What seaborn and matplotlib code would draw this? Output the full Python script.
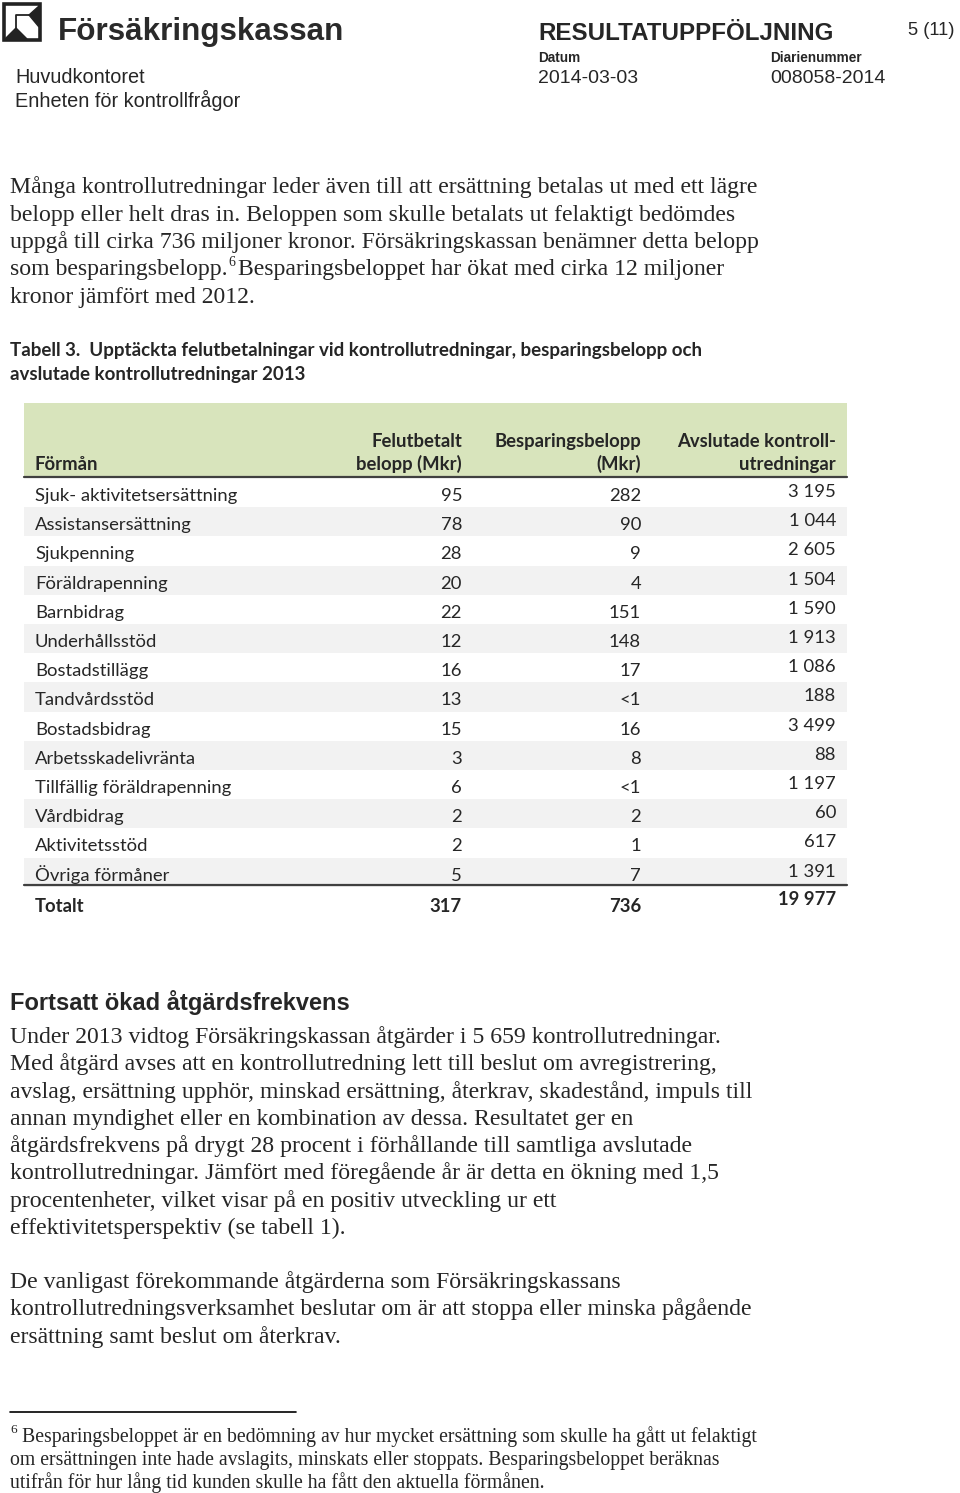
import matplotlib
matplotlib.use("Agg")
import matplotlib.pyplot as plt
from matplotlib.patches import Polygon, Rectangle
import seaborn as sns

# ---------------- data ----------------
formaner = ["Sjuk- aktivitetsersättning", "Assistansersättning", "Sjukpenning",
            "Föräldrapenning", "Barnbidrag", "Underhållsstöd", "Bostadstillägg",
            "Tandvårdsstöd", "Bostadsbidrag", "Arbetsskadelivränta",
            "Tillfällig föräldrapenning", "Vårdbidrag", "Aktivitetsstöd",
            "Övriga förmåner"]
felutbetalt = [95, 78, 28, 20, 22, 12, 16, 13, 15, 3, 6, 2, 2, 5]
besparing = ["282", "90", "9", "4", "151", "148", "17", "<1", "16", "8",
             "<1", "2", "1", "7"]
avslutade = [3195, 1044, 2605, 1504, 1590, 1913, 1086, 188, 3499, 88,
             1197, 60, 617, 1391]
totals = [317, 736, 19977]
header_cols = [("Felutbetalt", "belopp (Mkr)"),
               ("Besparingsbelopp", "(Mkr)"),
               ("Avslutade kontroll-", "utredningar")]

para1 = ["Många kontrollutredningar leder även till att ersättning betalas ut med ett lägre",
         "belopp eller helt dras in. Beloppen som skulle betalats ut felaktigt bedömdes",
         "uppgå till cirka 736 miljoner kronor. Försäkringskassan benämner detta belopp",
         "som besparingsbelopp.",
         "kronor jämfört med 2012."]
para1_rest = "Besparingsbeloppet har ökat med cirka 12 miljoner"
para2 = ["Under 2013 vidtog Försäkringskassan åtgärder i 5 659 kontrollutredningar.",
         "Med åtgärd avses att en kontrollutredning lett till beslut om avregistrering,",
         "avslag, ersättning upphör, minskad ersättning, återkrav, skadestånd, impuls till",
         "annan myndighet eller en kombination av dessa. Resultatet ger en",
         "åtgärdsfrekvens på drygt 28 procent i förhållande till samtliga avslutade",
         "kontrollutredningar. Jämfört med föregående år är detta en ökning med 1,5",
         "procentenheter, vilket visar på en positiv utveckling ur ett",
         "effektivitetsperspektiv (se tabell 1)."]
para3 = ["De vanligast förekommande åtgärderna som Försäkringskassans",
         "kontrollutredningsverksamhet beslutar om är att stoppa eller minska pågående",
         "ersättning samt beslut om återkrav."]
footnote = ["Besparingsbeloppet är en bedömning av hur mycket ersättning som skulle ha gått ut felaktigt",
            "om ersättningen inte hade avslagits, minskats eller stoppats. Besparingsbeloppet beräknas",
            "utifrån för hur lång tid kunden skulle ha fått den aktuella förmånen."]


def fmt(v):
    return f"{v:,}".replace(",", " ")


sns.set_theme(style="white")
SERIF = "Liberation Serif"
ARIAL = "Liberation Sans"
CAL = "Lato"

fig = plt.figure(figsize=(9.6, 14.93), dpi=100)
ax = fig.add_axes([0, 0, 1, 1])
ax.set_xlim(0, 960)
ax.set_ylim(1493, 0)
ax.axis("off")

# ---------- letterhead ----------
ax.add_patch(Rectangle((4, 4), 36, 36, fill=False, ec="#222222", lw=2.6))
ax.add_patch(Polygon([(5, 39), (16, 28), (27, 39)], color="#222222"))
ax.add_patch(Polygon([(29, 15), (39, 6), (39, 27)], color="#222222"))
ax.plot([16, 16, 30], [28, 15, 15], color="#222222", lw=1.3)
ax.text(58, 40, "Försäkringskassan", fontsize=22.6, fontweight="bold",
        family=ARIAL, color="#2a2a2a", va="baseline")
ax.text(15, 83, "Huvudkontoret", fontsize=14.3, family=ARIAL, va="baseline")
ax.text(15, 107, "Enheten för kontrollfrågor", fontsize=14.3, family=ARIAL, va="baseline")
ax.text(538, 40, "RESULTATUPPFÖLJNING", fontsize=17.4, fontweight="bold",
        family=ARIAL, va="baseline")
ax.text(908, 35, "5 (11)", fontsize=13.2, family=ARIAL, va="baseline")
ax.text(538, 62, "Datum", fontsize=9.8, fontweight="bold", family=ARIAL, va="baseline")
ax.text(770, 62, "Diarienummer", fontsize=9.8, fontweight="bold", family=ARIAL, va="baseline")
ax.text(538, 83, "2014-03-03", fontsize=14, family=ARIAL, va="baseline")
ax.text(770, 83, "008058-2014", fontsize=14, family=ARIAL, va="baseline")

# ---------- paragraph 1 ----------
BODY = 17.1
for i, line in enumerate(para1):
    ax.text(10, 193 + 27.5 * i, line, fontsize=BODY, family=SERIF, va="baseline")
fig.canvas.draw()
r = fig.canvas.get_renderer()
bb = ax.texts[-2].get_window_extent(r)
x_end = bb.x1
ax.text(x_end + 1, 193 + 27.5 * 3 - 10, "6", fontsize=10, family=SERIF, va="baseline")
ax.text(x_end + 10, 193 + 27.5 * 3, para1_rest, fontsize=BODY, family=SERIF, va="baseline")

# ---------- table caption ----------
TS = 13.3
ax.text(10, 356, "Tabell 3.  Upptäckta felutbetalningar vid kontrollutredningar, besparingsbelopp och",
        fontsize=13.5, fontweight="bold", family=CAL, va="baseline")
ax.text(10, 380, "avslutade kontrollutredningar 2013",
        fontsize=13.5, fontweight="bold", family=CAL, va="baseline")

# ---------- table ----------
TX0, TX1 = 24, 847
col_right = [462, 641, 836]
ax.add_patch(Rectangle((TX0, 403), TX1 - TX0, 74, color="#d8e4bc", lw=0))
ax.plot([TX0, TX1], [477, 477], color="#404040", lw=1.6)
ax.text(35, 470, "Förmån", fontsize=TS, fontweight="bold", family=CAL, va="baseline")
for (l1, l2), xr in zip(header_cols, col_right):
    ax.text(xr, 447, l1, fontsize=TS, fontweight="bold", family=CAL, ha="right", va="baseline")
    ax.text(xr, 470, l2, fontsize=TS, fontweight="bold", family=CAL, ha="right", va="baseline")

RH = 29.2
top0 = 478
for i, name in enumerate(formaner):
    top = top0 + i * RH
    if i % 2 == 1:
        ax.add_patch(Rectangle((TX0, top), TX1 - TX0, RH, color="#f2f2f2", lw=0))
    base = top + 23
    ax.text(35, base, name, fontsize=TS, family=CAL, va="baseline")
    ax.text(col_right[0], base, str(felutbetalt[i]), fontsize=TS, family=CAL,
            ha="right", va="baseline")
    ax.text(col_right[1], base, besparing[i], fontsize=TS, family=CAL,
            ha="right", va="baseline")
    ax.text(col_right[2], base - 4, fmt(avslutade[i]), fontsize=TS, family=CAL,
            ha="right", va="baseline")
ax.plot([TX0, TX1], [885, 885], color="#404040", lw=1.6)
ax.text(35, 912, "Totalt", fontsize=TS, fontweight="bold", family=CAL, va="baseline")
ax.text(col_right[0], 912, str(totals[0]), fontsize=TS, fontweight="bold", family=CAL,
        ha="right", va="baseline")
ax.text(col_right[1], 912, str(totals[1]), fontsize=TS, fontweight="bold", family=CAL,
        ha="right", va="baseline")
ax.text(col_right[2], 905, fmt(totals[2]), fontsize=TS, fontweight="bold", family=CAL,
        ha="right", va="baseline")

# ---------- section ----------
ax.text(10, 1010, "Fortsatt ökad åtgärdsfrekvens", fontsize=17, fontweight="bold",
        family=ARIAL, va="baseline")
for i, line in enumerate(para2):
    ax.text(10, 1043 + 27.3 * i, line, fontsize=BODY, family=SERIF, va="baseline")
for i, line in enumerate(para3):
    ax.text(10, 1288 + 27.3 * i, line, fontsize=BODY, family=SERIF, va="baseline")

# ---------- footnote ----------
ax.plot([10, 296], [1412, 1412], color="black", lw=1.2)
ax.text(10, 1433, "6", fontsize=9.5, family=SERIF, va="baseline")
for i, line in enumerate(footnote):
    ax.text(22 if i == 0 else 10, 1442 + 23 * i, line, fontsize=14.2, family=SERIF,
            va="baseline")

fig.savefig("out.png", dpi=100, facecolor="white")
